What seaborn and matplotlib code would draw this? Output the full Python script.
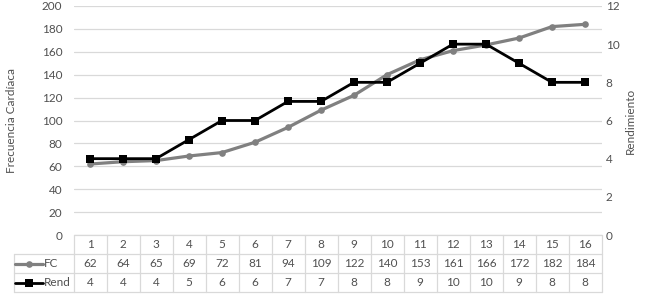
import matplotlib
matplotlib.use("Agg")
import matplotlib.pyplot as plt
import seaborn as sns
import pandas as pd

categories = list(range(1, 17))
fc_values = [62, 64, 65, 69, 72, 81, 94, 109, 122, 140, 153, 161, 166, 172, 182, 184]
rend_values = [4, 4, 4, 5, 6, 6, 7, 7, 8, 8, 9, 10, 10, 9, 8, 8]
left_ticks = list(range(0, 201, 20))
right_ticks = list(range(0, 13, 2))

sns.set_style("white")
plt.rcParams["font.family"] = ["Lato", "DejaVu Sans"]

TEXT = "#505050"
GRID = "#d9d9d9"
FC_COLOR = "#808080"
REND_COLOR = "#000000"
FS = 8.5

df = pd.DataFrame({"x": categories, "FC": fc_values, "Rend": rend_values})

fig = plt.figure(figsize=(6.5, 2.94), dpi=100)
L, R, T, B = 73.5, 601.5, 6, 235
W, H = 650, 294
ax = fig.add_axes([L / W, (H - B) / H, (R - L) / W, (B - T) / H])
ax2 = ax.twinx()

sns.lineplot(data=df, x="x", y="FC", ax=ax, color=FC_COLOR, lw=2.3,
             marker="o", markersize=4.8, markeredgewidth=0, zorder=3)
sns.lineplot(data=df, x="x", y="Rend", ax=ax2, color=REND_COLOR, lw=2.0,
             marker="s", markersize=5.2, markeredgewidth=0, zorder=4)

ax.set_xlim(0.5, 16.5)
ax.set_ylim(0, 200)
ax2.set_ylim(0, 12)
ax.set_yticks(left_ticks)
ax2.set_yticks(right_ticks)
ax.set_xticks([])
ax.set_xlabel("")
ax2.set_xlabel("")
ax.grid(axis="y", color=GRID, lw=0.9)
ax.set_axisbelow(True)
for a in (ax, ax2):
    for s in a.spines.values():
        s.set_visible(False)
ax.tick_params(axis="y", length=0, pad=8, labelsize=FS, labelcolor=TEXT)
ax2.tick_params(axis="y", length=0, pad=3, labelsize=FS, labelcolor=TEXT)
ax.set_ylabel("Frecuencia Cardíaca", fontsize=FS, color=TEXT)
ax.yaxis.set_label_coords(-0.107, 0.5)
ax2.set_ylabel("Rendimiento", fontsize=FS, color=TEXT)
ax2.yaxis.set_label_coords(1.045, 0.5)

# data table
TB = 292
tab = fig.add_axes([L / W, (H - TB) / H, (R - L) / W, (TB - B) / H])
tab.set_xlim(0.5, 16.5)
tab.set_ylim(3, 0)
tab.axis("off")
xl = 0.5 - (L - 14) / 33.0
lk = dict(color=GRID, lw=0.9, clip_on=False)
tab.plot([0.5, 16.5], [0, 0], **lk)
for yy in (1, 2, 3):
    tab.plot([xl, 16.5], [yy, yy], **lk)
for k in range(17):
    tab.plot([0.5 + k, 0.5 + k], [0, 3], **lk)
tab.plot([xl, xl], [1, 3], **lk)

for i, c in enumerate(categories):
    tab.text(c, 0.5, str(c), ha="center", va="center", fontsize=FS, color=TEXT)
    tab.text(c, 1.5, str(fc_values[i]), ha="center", va="center", fontsize=FS, color=TEXT)
    tab.text(c, 2.5, str(rend_values[i]), ha="center", va="center", fontsize=FS, color=TEXT)

kx0, kx1 = xl + 1 / 33.0, xl + 29 / 33.0
km = (kx0 + kx1) / 2
tab.plot([kx0, kx1], [1.5, 1.5], color=FC_COLOR, lw=2.3, clip_on=False)
tab.plot([km], [1.5], marker="o", color=FC_COLOR, markersize=4.8, mew=0, clip_on=False)
tab.plot([kx0, kx1], [2.5, 2.5], color=REND_COLOR, lw=2.0, clip_on=False)
tab.plot([km], [2.5], marker="s", color=REND_COLOR, markersize=5.2, mew=0, clip_on=False)
tab.text(kx1 + 1 / 33.0, 1.5, "FC", ha="left", va="center", fontsize=FS, color=TEXT, clip_on=False)
tab.text(kx1 + 1 / 33.0, 2.5, "Rend", ha="left", va="center", fontsize=FS, color=TEXT, clip_on=False)

fig.savefig("out.png", dpi=100)
